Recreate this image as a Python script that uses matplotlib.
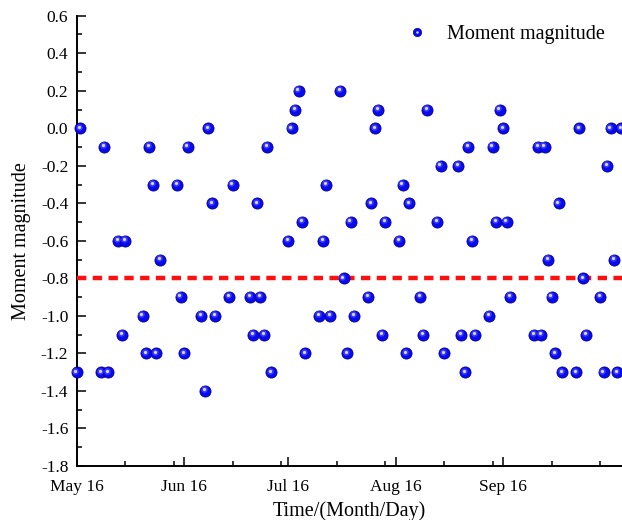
import numpy as np
import matplotlib
matplotlib.use("Agg")
import matplotlib.pyplot as plt
import matplotlib.dates as mdates
import matplotlib.transforms as mtransforms
from matplotlib.lines import Line2D
from matplotlib.legend_handler import HandlerTuple

plt.rcParams['font.family'] = ['Liberation Serif', 'DejaVu Serif']
plt.rcParams['axes.unicode_minus'] = False

# data: days after May 16 and moment magnitude
start_date = np.datetime64('2016-05-16')
day_offset = [0, 1, 7, 8, 9, 12, 13, 14, 19, 20, 21, 22, 23, 24, 29, 30, 31, 32,
              36, 37, 38, 39, 40, 44, 45, 50, 51, 52, 53, 54, 55, 56, 61, 62, 63,
              64, 65, 66, 70, 71, 72, 73, 76, 77, 78, 79, 80, 84, 85, 86, 87, 88,
              89, 93, 94, 95, 96, 99, 100, 101, 104, 105, 106, 110, 111, 112, 113,
              114, 115, 119, 120, 121, 122, 123, 124, 125, 132, 133, 134, 135, 136,
              137, 138, 139, 140, 144, 145, 146, 147, 151, 152, 153, 154, 155, 156,
              157]
magnitude = [-1.3, 0.0, -1.3, -0.1, -1.3, -0.6, -1.1, -0.6, -1.0, -1.2, -0.1, -0.3,
             -1.2, -0.7, -0.3, -0.9, -1.2, -0.1, -1.0, -1.4, 0.0, -0.4, -1.0, -0.9,
             -0.3, -0.9, -1.1, -0.4, -0.9, -1.1, -0.1, -1.3, -0.6, 0.0, 0.1, 0.2,
             -0.5, -1.2, -1.0, -0.6, -0.3, -1.0, 0.2, -0.8, -1.2, -0.5, -1.0, -0.9,
             -0.4, 0.0, 0.1, -1.1, -0.5, -0.6, -0.3, -1.2, -0.4, -0.9, -1.1, 0.1,
             -0.5, -0.2, -1.2, -0.2, -1.1, -1.3, -0.1, -0.6, -1.1, -1.0, -0.1, -0.5,
             0.1, 0.0, -0.5, -0.9, -1.1, -0.1, -1.1, -0.1, -0.7, -0.9, -1.2, -0.4,
             -1.3, -1.3, 0.0, -0.8, -1.1, -0.9, -1.3, -0.2, 0.0, -0.7, -1.3, 0.0]
threshold = -0.8

major_dates = ['2016-05-16', '2016-06-16', '2016-07-16', '2016-08-16', '2016-09-16']
minor_dates = ['2016-05-30', '2016-06-13', '2016-06-30', '2016-07-14', '2016-07-30',
               '2016-08-13', '2016-08-30', '2016-09-13', '2016-09-30', '2016-10-14']
y_major = [-1.8, -1.6, -1.4, -1.2, -1.0, -0.8, -0.6, -0.4, -0.2, 0.0, 0.2, 0.4, 0.6]
y_labels = ['-1.8', '-1.6', '-1.4', '-1.2', '-1.0', '-0.8', '-0.6', '-0.4', '-0.2',
            '0.0', '0.2', '0.4', '0.6']
y_minor = [-1.7, -1.5, -1.3, -1.1, -0.9, -0.7, -0.5, -0.3, -0.1, 0.1, 0.3, 0.5]
x_end = 157.3  # days shown after start

dates = start_date + np.array(day_offset)
x = mdates.date2num(dates)
x0 = mdates.date2num(start_date)

fig = plt.figure(figsize=(6.22, 5.2), dpi=100)
ax = fig.add_axes([0.1233, 0.1038, 0.8767, 0.866])

ax.axhline(threshold, color='#ff1010', lw=3.2, dashes=(2.1, 1.45), zorder=4)

# shaded ball markers: body + highlight
hl = mtransforms.offset_copy(ax.transData, fig=fig, x=-0.9, y=1.2, units='points')
ax.plot(x, magnitude, 'o', ms=8.0, mfc='#0a0aee', mec='#00009a', mew=0.6,
        clip_on=False, zorder=5)
ax.plot(x, magnitude, 'o', ms=4.7, mfc='#3a3aff', mec='none',
        clip_on=False, zorder=6, transform=hl)
ax.plot(x, magnitude, 'o', ms=2.3, mfc='#d8d8ff', mec='none',
        clip_on=False, zorder=7, transform=hl)

ax.set_xlim(x0, x0 + x_end)
ax.set_ylim(-1.8, 0.6)

ax.set_xticks(mdates.date2num(np.array(major_dates, dtype='datetime64[D]')))
ax.set_xticks(mdates.date2num(np.array(minor_dates, dtype='datetime64[D]')), minor=True)
ax.xaxis.set_major_formatter(mdates.DateFormatter('%b %d'))
ax.set_yticks(y_major)
ax.set_yticklabels(y_labels)
ax.set_yticks(y_minor, minor=True)

for s in ['top', 'right']:
    ax.spines[s].set_visible(False)
for s in ['left', 'bottom']:
    ax.spines[s].set_linewidth(1.4)

ax.tick_params(which='major', direction='in', length=6.5, width=1.1,
               labelsize=12.5, pad=6)
ax.tick_params(axis='x', which='major', pad=9)
ax.tick_params(which='minor', direction='in', length=3.6, width=1.1)

ax.set_xlabel('Time/(Month/Day)', fontsize=14.5, labelpad=5)
ax.set_ylabel('Moment magnitude', fontsize=14.5, labelpad=7)

h_body = Line2D([], [], ls='none', marker='o', ms=6.0, mfc='#0a0aee',
                mec='#00009a', mew=0.5)
h_hl = Line2D([], [], ls='none', marker='o', ms=1.8, mfc='#d8d8ff', mec='none')
ax.legend([(h_body, h_hl)], ['Moment magnitude'],
          handler_map={tuple: HandlerTuple(ndivide=1, pad=0)},
          loc='upper left', bbox_to_anchor=(0.646, 0.952),
          bbox_transform=fig.transFigure, frameon=False, fontsize=14.5,
          handlelength=1.5, handletextpad=0.75, borderpad=0, borderaxespad=0)

fig.savefig('out.png', dpi=100)
